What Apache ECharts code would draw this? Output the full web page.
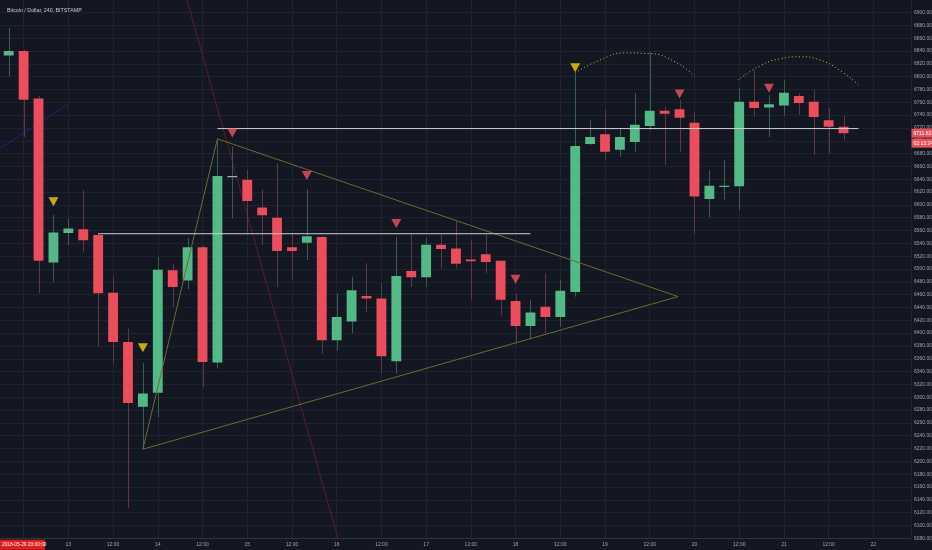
<!DOCTYPE html>
<html><head><meta charset="utf-8">
<script src="https://cdn.jsdelivr.net/npm/echarts@6/dist/echarts.min.js"></script>
<style>html,body{margin:0;padding:0;background:#131722;}#c{width:932px;height:550px;}</style>
</head><body><div id="c"></div>
<script>
// ---- data (4h candles, BITSTAMP BTC/USD) ----
const times = [
 '2018-06-12T08:00','2018-06-12T12:00','2018-06-12T16:00','2018-06-12T20:00',
 '2018-06-13T00:00','2018-06-13T04:00','2018-06-13T08:00','2018-06-13T12:00','2018-06-13T16:00','2018-06-13T20:00',
 '2018-06-14T00:00','2018-06-14T04:00','2018-06-14T08:00','2018-06-14T12:00','2018-06-14T16:00','2018-06-14T20:00',
 '2018-06-15T00:00','2018-06-15T04:00','2018-06-15T08:00','2018-06-15T12:00','2018-06-15T16:00','2018-06-15T20:00',
 '2018-06-16T00:00','2018-06-16T04:00','2018-06-16T08:00','2018-06-16T12:00','2018-06-16T16:00','2018-06-16T20:00',
 '2018-06-17T00:00','2018-06-17T04:00','2018-06-17T08:00','2018-06-17T12:00','2018-06-17T16:00','2018-06-17T20:00',
 '2018-06-18T00:00','2018-06-18T04:00','2018-06-18T08:00','2018-06-18T12:00','2018-06-18T16:00','2018-06-18T20:00',
 '2018-06-19T00:00','2018-06-19T04:00','2018-06-19T08:00','2018-06-19T12:00','2018-06-19T16:00','2018-06-19T20:00',
 '2018-06-20T00:00','2018-06-20T04:00','2018-06-20T08:00','2018-06-20T12:00','2018-06-20T16:00','2018-06-20T20:00',
 '2018-06-21T00:00','2018-06-21T04:00','2018-06-21T08:00','2018-06-21T12:00','2018-06-21T16:00'
];
const opens  = [6833,6840,6766,6510,6556,6562,6553,6463,6386,6285,6307,6498,6482,6534,6354,6645,6639,6596,6580,6534,6541,6550,6389,6418,6458,6454,6356,6497,6487,6538,6532,6515,6523,6513,6450,6411,6441,6425,6464,6695,6710,6686,6698,6723,6747,6749,6728,6609,6629,6629,6761,6752,6755,6770,6761,6732,6722];
const highs  = [6876,6842,6770,6584,6579,6623,6556,6488,6407,6353,6519,6509,6548,6536,6703,6691,6655,6624,6665,6556,6624,6552,6462,6488,6509,6478,6550,6556,6548,6553,6574,6545,6553,6514,6462,6452,6493,6483,6805,6732,6748,6719,6774,6838,6753,6764,6745,6654,6670,6782,6810,6771,6795,6774,6779,6751,6739];
const lows   = [6800,6706,6462,6480,6537,6527,6379,6353,6127,6219,6269,6441,6468,6316,6345,6579,6556,6537,6472,6483,6514,6368,6373,6400,6433,6337,6337,6472,6472,6501,6501,6451,6493,6428,6384,6390,6400,6410,6457,6693,6670,6675,6683,6717,6662,6683,6556,6581,6608,6592,6737,6706,6739,6740,6678,6680,6701];
const closes = [6840,6764,6513,6557,6563,6545,6462,6386,6291,6306,6499,6472,6534,6355,6645,6645,6606,6584,6528,6528,6551,6389,6425,6467,6454,6364,6489,6487,6538,6531,6508,6512,6511,6452,6411,6432,6425,6466,6692,6706,6683,6706,6725,6747,6742,6736,6613,6630,6630,6761,6751,6757,6775,6759,6737,6722,6711.82];

// signal markers (down triangles)
const yellowMarkTimes  = ['2018-06-12T20:00','2018-06-13T20:00','2018-06-18T16:00'];
const yellowMarkPrices = [6605, 6377, 6814];
const redMarkTimes  = ['2018-06-14T20:00','2018-06-15T16:00','2018-06-16T16:00','2018-06-18T00:00','2018-06-19T20:00','2018-06-20T20:00'];
const redMarkPrices = [6712, 6646, 6571, 6484, 6773, 6782];

// drawings
const upperLevel  = [['2018-06-14T16:00',6719],['2018-06-21T20:00',6719]];
const lowerLevel  = [['2018-06-13T08:00',6555],['2018-06-18T04:00',6555]];
const trianglePts = [['2018-06-13T20:00',6219],['2018-06-14T16:00',6703],['2018-06-19T19:36',6457],['2018-06-13T20:00',6219]];
const redDiagonal = [['2018-06-14T07:50',6920],['2018-06-16T00:30',6076]];
const blueLine    = [['2018-06-12T05:40',6688],['2018-06-13T00:00',6757]];
const arc1 = [['2018-06-18T16:00',6806],['2018-06-18T22:40',6826],['2018-06-19T05:20',6837],['2018-06-19T12:00',6836],['2018-06-19T18:50',6823],['2018-06-20T00:00',6801]];
const arc2 = [['2018-06-20T11:40',6795],['2018-06-20T17:40',6817],['2018-06-20T23:00',6828],['2018-06-21T04:20',6831],['2018-06-21T09:40',6826],['2018-06-21T15:00',6810],['2018-06-21T20:00',6787]];

const yTicks = {min: 6080, max: 6920, step: 20};
const xStartDay = 12;
const titleText = 'Bitcoin / Dollar, 240, BITSTAMP';
const cursorDate = '2018-05-29 20:00:00';
const countdown = '02:13:24';

// ---- helpers ----
const T0 = Date.UTC(2018, 5, 12);
const hrs = s => (Date.parse(s + ':00Z') - T0) / 36e5;
const pts = arr => arr.map(p => [hrs(p[0]), p[1]]);

const GREEN = '#53b987', RED = '#eb4d5c';
const candleData = times.map((t, i) => [hrs(t), opens[i], closes[i], lows[i], highs[i]]);
const FONT = 'Liberation Sans, Arial, sans-serif';
const LBL = '#9ea3ad';

const chart = echarts.init(document.getElementById('c'), null, {renderer: 'canvas'});
const lineS = (data, color, extra) => Object.assign({
  type: 'line', data: pts(data), symbol: 'none', silent: true, animation: false,
  lineStyle: {color: color, width: 1}, z: 5
}, extra || {});

chart.setOption({
  backgroundColor: '#131722',
  animation: false,
  title: {text: titleText, left: 2, top: 3, textStyle: {color: '#c8cbd3', fontSize: 5.3, fontWeight: 'normal', fontFamily: FONT}},
  grid: {left: -21.1, top: -0.3, width: 932.1, height: 538.6, containLabel: false, outerBoundsMode: 'none'},
  xAxis: {
    type: 'value', min: 0, max: 250.1, interval: 12,
    axisLine: {show: true, lineStyle: {color: '#2f3340'}},
    axisTick: {show: false},
    splitLine: {show: true, lineStyle: {color: '#1f2330', width: 1}},
    axisLabel: {
      color: LBL, fontSize: 5, fontFamily: FONT, margin: 4, showMaxLabel: false,
      formatter: v => (Math.round(v) % 24 === 0 ? String(xStartDay + Math.round(v) / 24) : '12:00')
    }
  },
  yAxis: {
    type: 'value', position: 'right', min: yTicks.min, max: yTicks.max, interval: yTicks.step,
    axisLine: {show: true, lineStyle: {color: '#2f3340'}},
    axisTick: {show: true, length: 2, lineStyle: {color: '#3a3e4a'}},
    splitLine: {show: true, lineStyle: {color: '#1d2130', width: 1}},
    axisLabel: {color: LBL, fontSize: 5, fontFamily: FONT, margin: 3, showMaxLabel: false, formatter: v => v.toFixed(2)}
  },
  series: [
    lineS(redDiagonal, '#5e1a31', {z: 1}),
    lineS(blueLine, '#24247a', {z: 1}),
    {
      type: 'custom', z: 3, data: candleData, encode: {x: 0, y: [1, 2, 3, 4]}, clip: true,
      renderItem: (params, api) => {
        const h = api.value(0), o = api.value(1), c = api.value(2), lo = api.value(3), hi = api.value(4);
        const pO = api.coord([h, o]), pC = api.coord([h, c]), pH = api.coord([h, hi]), pL = api.coord([h, lo]);
        const w = api.size([4, 0])[0] * 0.66;
        const up = c > o, doji = c === o;
        const col = doji ? '#a5a8b0' : (up ? GREEN : RED);
        const wick = doji ? '#4a4e5a' : (up ? '#3b5e54' : '#633646');
        const top = Math.min(pO[1], pC[1]);
        const hh = Math.max(Math.abs(pO[1] - pC[1]), 1.3);
        const xc = Math.round(pO[0]) + 0.5;
        return {type: 'group', children: [
          {type: 'line', shape: {x1: xc, y1: pH[1], x2: xc, y2: pL[1]}, style: {stroke: wick, lineWidth: 1}},
          {type: 'rect', shape: {x: pO[0] - w / 2, y: top, width: w, height: hh}, style: {fill: col}}
        ]};
      }
    },
    lineS(trianglePts, '#6f6a2c', {z: 6}),
    lineS(upperLevel, '#cfd0d4', {z: 7}),
    lineS(lowerLevel, '#cfd0d4', {z: 7}),
    lineS(arc1, '#b9c93a', {smooth: true, z: 7, lineStyle: {color: '#b9c93a', width: 1, type: [1, 2.5]}}),
    lineS(arc2, '#b9c93a', {smooth: true, z: 7, lineStyle: {color: '#b9c93a', width: 1, type: [1, 2.5]}}),
    {type: 'scatter', z: 8, silent: true, symbol: 'triangle', symbolRotate: 180, symbolSize: [10, 9],
     itemStyle: {color: '#f5d10a'}, data: yellowMarkTimes.map((t, i) => [hrs(t), yellowMarkPrices[i]])},
    {type: 'scatter', z: 8, silent: true, symbol: 'triangle', symbolRotate: 180, symbolSize: [10, 9],
     itemStyle: {color: '#ef5360'}, data: redMarkTimes.map((t, i) => [hrs(t), redMarkPrices[i]])}
  ]
});

// price / countdown tags on the price scale, and cursor date tag on the time scale
const last = closes[closes.length - 1];
const yLast = chart.convertToPixel({gridIndex: 0}, [0, last])[1];
const axisX = chart.convertToPixel({gridIndex: 0}, [250.1, last])[0];
const axisY = chart.convertToPixel({gridIndex: 0}, [0, yTicks.min])[1];
chart.setOption({graphic: [
  {type: 'rect', shape: {x: axisX + 0.5, y: yLast - 4.5, width: 21, height: 9}, style: {fill: '#e8505b'}, z: 100},
  {type: 'text', x: axisX + 2.5, y: yLast, style: {text: last.toFixed(2), fill: '#ffffff', fontSize: 5, fontFamily: FONT, verticalAlign: 'middle'}, z: 101},
  {type: 'rect', shape: {x: axisX + 0.5, y: yLast + 5.5, width: 21, height: 9}, style: {fill: '#e8505b'}, z: 100},
  {type: 'text', x: axisX + 2.5, y: yLast + 10, style: {text: countdown, fill: '#ffffff', fontSize: 5, fontFamily: FONT, verticalAlign: 'middle'}, z: 101},
  {type: 'rect', shape: {x: 0, y: axisY + 1.5, width: 45, height: 10}, style: {fill: '#e21d1d'}, z: 100},
  {type: 'text', x: 2, y: axisY + 6.5, style: {text: cursorDate, fill: '#ffffff', fontSize: 4.8, fontFamily: FONT, verticalAlign: 'middle'}, z: 101}
]});
</script>
</body></html>
